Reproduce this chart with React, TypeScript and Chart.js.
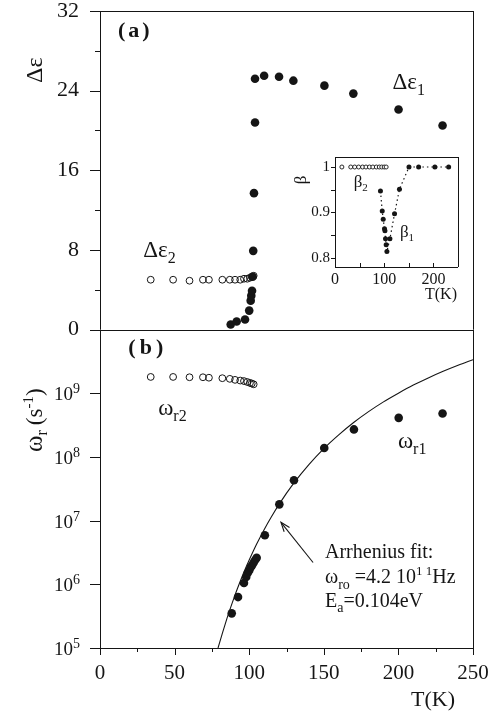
import React, { useEffect, useRef } from "react";
import { Chart, registerables } from "chart.js";
Chart.register(...registerables);

const FONT = "'Liberation Serif', 'Times New Roman', serif";
const INK = "#151515";

// ---- Panel (a): Δε vs T ----
const T_DE1 = [87.6, 91.6, 97.2, 100.0, 101.0, 101.4, 101.9, 102.3, 102.7, 103.2, 103.9, 103.9, 110.0, 120.0, 129.6, 150.4, 169.8, 200.1, 229.6];
const DE1 = [0.5, 0.8, 1.0, 1.9, 2.9, 3.4, 3.9, 5.3, 7.9, 13.7, 20.8, 25.2, 25.5, 25.4, 25.0, 24.5, 23.7, 22.1, 20.5];
const T_DE2 = [34, 49, 60, 69, 73, 82, 87, 90.5, 94, 96.5, 98.7, 100.5, 101.7, 103];
const DE2 = [5.0, 5.0, 4.9, 5.0, 5.0, 5.0, 5.0, 5.0, 5.0, 5.1, 5.1, 5.2, 5.3, 5.4];

// ---- Panel (b): ω_r vs T ----
const T_W1 = [88.3, 92.5, 96.5, 98.0, 99.0, 100.0, 101.0, 102.0, 103.0, 104.0, 105.0, 110.5, 120.2, 130.0, 150.3, 170.2, 200.2, 229.6];
const W1 = [3.5e5, 6.3e5, 1.05e6, 1.3e6, 1.5e6, 1.65e6, 1.85e6, 2.0e6, 2.2e6, 2.4e6, 2.6e6, 5.9e6, 1.8e7, 4.3e7, 1.38e8, 2.7e8, 4.1e8, 4.8e8];
const T_W2 = [34, 49, 60, 69, 73, 82, 87, 90.5, 94, 96.5, 98.7, 100.5, 101.7, 103];
const W2 = [1.8e9, 1.8e9, 1.78e9, 1.78e9, 1.75e9, 1.72e9, 1.68e9, 1.62e9, 1.58e9, 1.55e9, 1.5e9, 1.45e9, 1.42e9, 1.38e9];
// Arrhenius fit curve
const T_FIT = [79.1, 82, 85, 87, 90, 92, 95, 97, 100, 105, 110, 115, 120, 130, 140, 150, 160, 170, 180, 190, 200, 210, 220, 230, 240, 250];
const W_FIT = [1.0e5, 1.7e5, 2.86e5, 3.96e5, 6.3e5, 8.43e5, 1.28e6, 1.66e6, 2.4e6, 4.28e6, 7.21e6, 1.16e7, 1.8e7, 3.9e7, 7.57e7, 1.35e8, 2.22e8, 3.47e8, 5.14e8, 7.31e8, 1.0e9, 1.34e9, 1.74e9, 2.21e9, 2.75e9, 3.36e9];

// ---- Inset: β vs T ----
const T_B1 = [92.4, 96, 98, 100.6, 101.5, 102.7, 104, 105.5, 111.6, 121, 131, 150.4, 170, 203, 231];
const B1 = [0.947, 0.903, 0.885, 0.864, 0.86, 0.842, 0.829, 0.814, 0.842, 0.897, 0.951, 1.0, 1.0, 1.0, 1.0];
const T_B2 = [14, 32, 40, 48, 56, 63, 70, 77, 84, 90, 95, 100, 104];
const B2 = [1.0, 1.0, 1.0, 1.0, 1.0, 1.0, 1.0, 1.0, 1.0, 1.0, 1.0, 1.0, 1.0];

// ---- Ticks ----
const X_TICKS = [0, 50, 100, 150, 200, 250];
const X_MINOR = [25, 75, 125, 175, 225];
const YA_TICKS = [0, 8, 16, 24, 32];
const YA_MINOR = [4, 12, 20, 28];
const YB_EXP = [5, 6, 7, 8, 9, 10];
const YB_LABEL_EXP = ["5", "6", "7", "8", "9"];
const IN_X_TICKS = [0, 100, 200];
const IN_X_MARKS = [0, 50, 100, 150, 200, 250];
const IN_Y_TICKS = [0.8, 0.9, 1];
const IN_Y_MARKS = [0.8, 0.85, 0.9, 0.95, 1];

const pts = (xs: number[], ys: number[]) => xs.map((x, i) => ({ x, y: ys[i] }));

type Part = { t: string; size: number; dy?: number; bold?: boolean; gap?: number };
function drawRich(ctx: CanvasRenderingContext2D, x: number, y: number, parts: Part[], align: "left" | "right" = "left") {
  ctx.save();
  ctx.textBaseline = "alphabetic";
  ctx.textAlign = "left";
  ctx.fillStyle = INK;
  const f = (p: Part) => `${p.bold ? "bold " : ""}${p.size}px ${FONT}`;
  let w = 0;
  for (const p of parts) {
    ctx.font = f(p);
    w += ctx.measureText(p.t).width + (p.gap || 0);
  }
  let cx = align === "right" ? x - w : x;
  for (const p of parts) {
    ctx.font = f(p);
    ctx.fillText(p.t, cx, y + (p.dy || 0));
    cx += ctx.measureText(p.t).width + (p.gap || 0);
  }
  ctx.restore();
}
function drawRotated(ctx: CanvasRenderingContext2D, x: number, y: number, parts: Part[]) {
  ctx.save();
  ctx.translate(x, y);
  ctx.rotate(-Math.PI / 2);
  drawRich(ctx, 0, 0, parts);
  ctx.restore();
}
const hl = (ctx: CanvasRenderingContext2D, x1: number, x2: number, y: number) => {
  const yy = Math.round(y) + 0.5;
  ctx.beginPath(); ctx.moveTo(x1, yy); ctx.lineTo(x2, yy); ctx.stroke();
};
const vl = (ctx: CanvasRenderingContext2D, x: number, y1: number, y2: number) => {
  const xx = Math.round(x) + 0.5;
  ctx.beginPath(); ctx.moveTo(xx, y1); ctx.lineTo(xx, y2); ctx.stroke();
};
const noPad = (s: any) => { s.paddingLeft = 0; s.paddingRight = 0; s.paddingTop = 0; s.paddingBottom = 0; };

const mainPlugin = {
  id: "panels",
  afterDraw(chart: any) {
    const { ctx, chartArea, scales } = chart;
    const x = scales.x, ya = scales.yA, yb = scales.yB;
    const L = chartArea.left, R = chartArea.right;
    ctx.save();
    ctx.strokeStyle = INK;
    ctx.lineWidth = 1;
    // frames
    hl(ctx, L, R, ya.top); hl(ctx, L, R, ya.bottom); hl(ctx, L, R, yb.bottom);
    vl(ctx, L, ya.top, yb.bottom); vl(ctx, R, ya.top, yb.bottom);
    // ticks
    YA_TICKS.forEach(v => hl(ctx, L - 10, L, ya.getPixelForValue(v)));
    YA_MINOR.forEach(v => hl(ctx, L - 5, L, ya.getPixelForValue(v)));
    YB_EXP.forEach(e => hl(ctx, L - 10, L, yb.getPixelForValue(Math.pow(10, e))));
    X_TICKS.forEach(v => vl(ctx, x.getPixelForValue(v), x.top, x.top + 7));
    X_MINOR.forEach(v => vl(ctx, x.getPixelForValue(v), x.top, x.top + 4));
    // log tick labels 10^n
    YB_LABEL_EXP.forEach((e, i) => {
      const py = yb.getPixelForValue(Math.pow(10, YB_EXP[i]));
      drawRich(ctx, 80, py + 7, [
        { t: "10", size: 19 },
        { t: e, size: 14, dy: -7 },
      ], "right");
    });
    // axis titles
    drawRotated(ctx, 42, 83, [{ t: "Δε", size: 24 }]);
    drawRotated(ctx, 42, 452, [
      { t: "ω", size: 25 },
      { t: "r", size: 16, dy: 5, gap: 5 },
      { t: "(s", size: 23 },
      { t: "-1", size: 15, dy: -9 },
      { t: ")", size: 23 },
    ]);
    drawRich(ctx, 455, 706, [{ t: "T(K)", size: 22 }], "right");
    // panel letters
    const X = (v: number) => x.getPixelForValue(v);
    const YA = (v: number) => ya.getPixelForValue(v);
    const YB = (v: number) => yb.getPixelForValue(v);
    drawRich(ctx, X(12), YA(29.4), [
      { t: "(", size: 22, bold: true, gap: 3 }, { t: "a", size: 22, bold: true, gap: 3 }, { t: ")", size: 22, bold: true },
    ]);
    drawRich(ctx, X(19), YB(4.1e9), [
      { t: "(", size: 22, bold: true, gap: 4 }, { t: "b", size: 22, bold: true, gap: 4 }, { t: ")", size: 22, bold: true },
    ]);
    // series labels
    drawRich(ctx, X(196), YA(24.2), [{ t: "Δε", size: 23 }, { t: "1", size: 16, dy: 6 }]);
    drawRich(ctx, X(29), YA(7.3), [{ t: "Δε", size: 23 }, { t: "2", size: 16, dy: 6 }]);
    drawRich(ctx, X(39), YB(4.5e8), [{ t: "ω", size: 23 }, { t: "r2", size: 16, dy: 6 }]);
    drawRich(ctx, X(199.7), YB(1.4e8), [{ t: "ω", size: 23 }, { t: "r1", size: 16, dy: 6 }]);
    // Arrhenius annotation
    drawRich(ctx, X(150.8), YB(2.6e6), [{ t: "Arrhenius fit:", size: 20 }]);
    drawRich(ctx, X(150.8), YB(1.05e6), [
      { t: "ω", size: 20 }, { t: "ro", size: 14, dy: 6, gap: 5 },
      { t: "=4.2 10", size: 20 }, { t: "1 1", size: 13, dy: -8 }, { t: "Hz", size: 20 },
    ]);
    drawRich(ctx, X(150.8), YB(4.4e5), [
      { t: "E", size: 20 }, { t: "a", size: 14, dy: 5 }, { t: "=0.104eV", size: 20 },
    ]);
    // arrow
    const x1 = X(142.8), y1 = YB(2.2e6), x2 = X(121.3), y2 = YB(9.4e6);
    ctx.lineWidth = 1.1;
    ctx.beginPath(); ctx.moveTo(x1, y1); ctx.lineTo(x2, y2); ctx.stroke();
    const a = Math.atan2(y1 - y2, x1 - x2);
    ctx.beginPath();
    ctx.moveTo(x2 + 10 * Math.cos(a - 0.35), y2 + 10 * Math.sin(a - 0.35));
    ctx.lineTo(x2, y2);
    ctx.lineTo(x2 + 10 * Math.cos(a + 0.35), y2 + 10 * Math.sin(a + 0.35));
    ctx.stroke();
    ctx.restore();
  },
};

const insetPlugin = {
  id: "insetFrame",
  beforeDraw(chart: any) {
    const { ctx, chartArea } = chart;
    ctx.save();
    ctx.fillStyle = "#fff";
    ctx.fillRect(chartArea.left, chartArea.top, chartArea.right - chartArea.left, chartArea.bottom - chartArea.top);
    ctx.restore();
  },
  afterDraw(chart: any) {
    const { ctx, chartArea, scales } = chart;
    const x = scales.x, y = scales.y;
    const { left: L, right: R, top: T, bottom: B } = chartArea;
    ctx.save();
    ctx.strokeStyle = INK;
    ctx.lineWidth = 1;
    hl(ctx, L, R, T); hl(ctx, L, R, B); vl(ctx, L, T, B); vl(ctx, R, T, B);
    IN_Y_MARKS.forEach(v => hl(ctx, L - 4, L, y.getPixelForValue(v)));
    IN_X_MARKS.forEach(v => vl(ctx, x.getPixelForValue(v), B - 4, B));
    drawRich(ctx, R - 1, B + 32, [{ t: "T(K)", size: 16 }], "right");
    ctx.save();
    ctx.translate(12, 35);
    ctx.rotate(-Math.PI / 2);
    ctx.font = `17px ${FONT}`;
    ctx.fillStyle = INK;
    ctx.textAlign = "center";
    ctx.textBaseline = "middle";
    ctx.fillText("β", 0, 0);
    ctx.restore();
    drawRich(ctx, x.getPixelForValue(38), y.getPixelForValue(0.955), [{ t: "β", size: 17 }, { t: "2", size: 11, dy: 4 }]);
    drawRich(ctx, x.getPixelForValue(132), y.getPixelForValue(0.845), [{ t: "β", size: 17 }, { t: "1", size: 11, dy: 4 }]);
    ctx.restore();
  },
};

function mainConfig(): any {
  return {
    type: "scatter",
    data: {
      datasets: [
        { label: "fit", data: pts(T_FIT, W_FIT), yAxisID: "yB", showLine: true, pointRadius: 0, borderColor: INK, borderWidth: 1.1, cubicInterpolationMode: "monotone", fill: false },
        { label: "Δε2", data: pts(T_DE2, DE2), yAxisID: "yA", pointRadius: 3.4, pointBorderWidth: 1, pointBorderColor: INK, pointBackgroundColor: "rgba(0,0,0,0)" },
        { label: "Δε1", data: pts(T_DE1, DE1), yAxisID: "yA", pointRadius: 4.3, pointBorderWidth: 0, pointBorderColor: INK, pointBackgroundColor: INK },
        { label: "ωr2", data: pts(T_W2, W2), yAxisID: "yB", pointRadius: 3.4, pointBorderWidth: 1, pointBorderColor: INK, pointBackgroundColor: "rgba(0,0,0,0)" },
        { label: "ωr1", data: pts(T_W1, W1), yAxisID: "yB", pointRadius: 4.3, pointBorderWidth: 0, pointBorderColor: INK, pointBackgroundColor: INK },
      ],
    },
    options: {
      responsive: false,
      animation: false,
      events: [],
      plugins: { legend: { display: false }, tooltip: { enabled: false } },
      layout: { padding: { top: 11, right: 18, left: 0, bottom: 0 } },
      scales: {
        x: {
          type: "linear", min: 0, max: 250, position: "bottom",
          afterBuildTicks: (s: any) => { s.ticks = X_TICKS.map(v => ({ value: v })); },
          afterFit: (s: any) => { s.height = 71; noPad(s); },
          ticks: { font: { family: FONT, size: 21 }, color: INK, padding: 13, maxRotation: 0 },
          grid: { display: false, drawTicks: false },
          border: { display: false },
        },
        yA: {
          type: "linear", min: 0, max: 32, position: "left", stack: "v", stackWeight: 1, weight: 1,
          afterBuildTicks: (s: any) => { s.ticks = YA_TICKS.map(v => ({ value: v })); },
          afterFit: (s: any) => { s.width = 100; noPad(s); },
          ticks: { font: { family: FONT, size: 22 }, color: INK, padding: 21 },
          grid: { display: false, drawTicks: false },
          border: { display: false },
        },
        yB: {
          type: "logarithmic", min: 1e5, max: 1e10, position: "left", stack: "v", stackWeight: 1, weight: 0,
          afterFit: (s: any) => { s.width = 100; noPad(s); },
          ticks: { display: false },
          grid: { display: false, drawTicks: false },
          border: { display: false },
        },
      },
    },
    plugins: [mainPlugin],
  };
}

function insetConfig(): any {
  return {
    type: "scatter",
    data: {
      datasets: [
        { label: "β2", data: pts(T_B2, B2), pointRadius: 2, pointBorderWidth: 0.9, pointBorderColor: INK, pointBackgroundColor: "#fff" },
        { label: "β1", data: pts(T_B1, B1), showLine: true, borderColor: INK, borderWidth: 1.2, borderDash: [1.5, 3], pointRadius: 2.5, pointBorderWidth: 0, pointBackgroundColor: INK, pointBorderColor: INK, tension: 0 },
      ],
    },
    options: {
      responsive: false,
      animation: false,
      events: [],
      plugins: { legend: { display: false }, tooltip: { enabled: false } },
      layout: { padding: { top: 12, right: 17, left: 0, bottom: 0 } },
      scales: {
        x: {
          type: "linear", min: 0, max: 250,
          afterBuildTicks: (s: any) => { s.ticks = IN_X_TICKS.map(v => ({ value: v })); },
          afterFit: (s: any) => { s.height = 38; noPad(s); },
          ticks: { font: { family: FONT, size: 16 }, color: INK, padding: 3, maxRotation: 0 },
          grid: { display: false, drawTicks: false },
          border: { display: false },
        },
        y: {
          type: "linear", min: 0.78, max: 1.022,
          afterBuildTicks: (s: any) => { s.ticks = IN_Y_TICKS.map(v => ({ value: v })); },
          afterFit: (s: any) => { s.width = 45; noPad(s); },
          ticks: { font: { family: FONT, size: 15 }, color: INK, padding: 5, callback: (v: number) => (v === 1 ? "1" : v.toFixed(1)) },
          grid: { display: false, drawTicks: false },
          border: { display: false },
        },
      },
    },
    plugins: [insetPlugin],
  };
}

export default function App() {
  const mainRef = useRef<HTMLCanvasElement>(null);
  const insetRef = useRef<HTMLCanvasElement>(null);
  useEffect(() => {
    const main = new Chart(mainRef.current!, mainConfig());
    const inset = new Chart(insetRef.current!, insetConfig());
    return () => {
      main.destroy();
      inset.destroy();
    };
  }, []);
  return (
    <div style={{ position: "fixed", left: 0, top: 0, width: 491, height: 719, background: "#fff" }}>
      <canvas ref={mainRef} width={491} height={719} style={{ position: "absolute", left: 0, top: 0, width: 491, height: 719 }} />
      <canvas ref={insetRef} width={185} height={160} style={{ position: "absolute", left: 290, top: 145, width: 185, height: 160 }} />
    </div>
  );
}
